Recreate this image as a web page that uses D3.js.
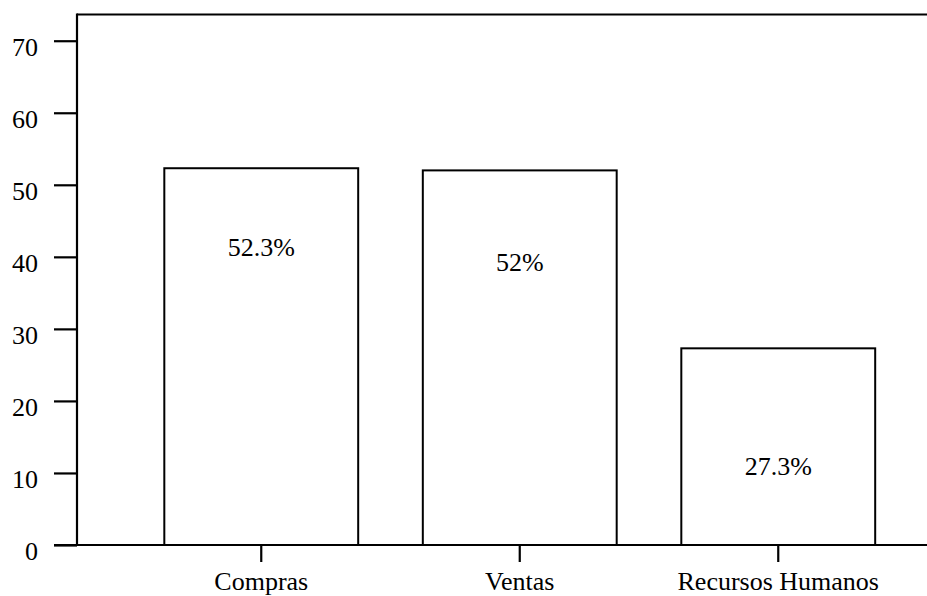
<!DOCTYPE html>
<html>
<head>
<meta charset="utf-8">
<script src="https://cdn.jsdelivr.net/npm/d3@7"></script>
<style>
  html, body { margin: 0; padding: 0; background: #fff; }
  svg { display: block; }
</style>
</head>
<body>
<svg id="chart" width="927" height="596"></svg>
<script>
// Share of each department (percent)
const categories = ["Compras", "Ventas", "Recursos Humanos"];
const values = [52.3, 52, 27.3];
const yTicks = [0, 10, 20, 30, 40, 50, 60, 70];

const W = 927, H = 596;
const svg = d3.select("#chart");
const fontSize = 26;
const serif = "'Liberation Serif', 'Tinos', 'Times New Roman', Times, 'DejaVu Serif', serif";

const axisX = 77;          // position of the vertical axis line
const baseY = 545;         // value 0
const topY = 14.5;         // upper frame line

const y = d3.scaleLinear().domain([0, 73.64]).range([baseY, topY]);
const x = d3.scaleBand()
  .domain(categories)
  .range([132, 907.5])
  .paddingInner(0.25)
  .paddingOuter(0.125);

// Upper frame line
svg.append("line")
  .attr("x1", axisX).attr("x2", W)
  .attr("y1", y.range()[1]).attr("y2", y.range()[1])
  .attr("stroke", "#000").attr("stroke-width", 2.2);

// Bars
svg.append("g").selectAll("rect")
  .data(values)
  .join("rect")
  .attr("x", (d, i) => x(categories[i]))
  .attr("y", d => y(d))
  .attr("width", x.bandwidth())
  .attr("height", d => y(0) - y(d))
  .attr("fill", "#fff")
  .attr("stroke", "#000")
  .attr("stroke-width", 2);

// Value labels inside the bars
const labelDrop = [88, 101, 127];
svg.append("g").selectAll("text")
  .data(values)
  .join("text")
  .attr("x", (d, i) => x(categories[i]) + x.bandwidth() / 2)
  .attr("y", (d, i) => y(d) + labelDrop[i])
  .attr("text-anchor", "middle")
  .style("font-family", serif)
  .style("font-size", fontSize + "px")
  .attr("fill", "#000")
  .text(d => `${d}%`);

// Y axis
const yAxis = svg.append("g")
  .attr("transform", `translate(${axisX},0)`)
  .call(d3.axisLeft(y).tickValues(yTicks).tickSize(23).tickSizeOuter(0).tickPadding(16));
yAxis.select(".domain").remove();
yAxis.selectAll(".tick line").attr("stroke", "#000").attr("stroke-width", 2.2);
yAxis.selectAll(".tick text")
  .style("font-family", serif)
  .style("font-size", fontSize + "px")
  .attr("dy", "0.55em");
yAxis.append("line")
  .attr("x1", 0).attr("x2", 0)
  .attr("y1", y.range()[0]).attr("y2", y.range()[1] - 1.1)
  .attr("stroke", "#000").attr("stroke-width", 2.2);

// X axis
const xAxis = svg.append("g")
  .attr("transform", `translate(0,${baseY})`)
  .call(d3.axisBottom(x).tickSize(17).tickSizeOuter(0).tickPadding(9.5));
xAxis.select(".domain").remove();
xAxis.selectAll(".tick line").attr("stroke", "#000").attr("stroke-width", 2.2);
xAxis.selectAll(".tick text")
  .style("font-family", serif)
  .style("font-size", fontSize + "px");
xAxis.append("line")
  .attr("x1", 54).attr("x2", W)
  .attr("y1", 0).attr("y2", 0)
  .attr("stroke", "#000").attr("stroke-width", 2.2);
</script>
</body>
</html>
